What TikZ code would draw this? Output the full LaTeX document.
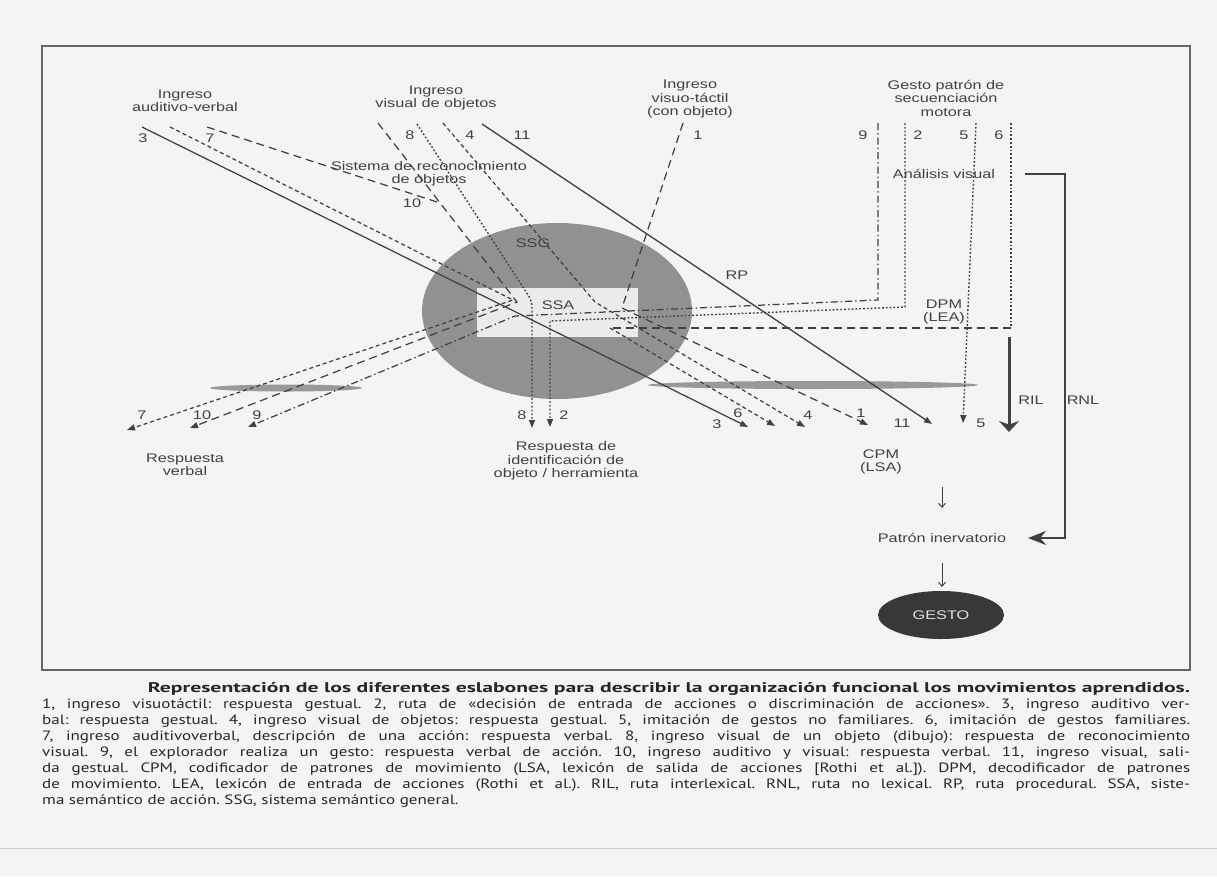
\documentclass[tikz,border=0pt]{standalone}
\usepackage{fontspec}
\setmainfont{Liberation Sans}
\newfontfamily\lblfont[FakeStretch=1.3]{Liberation Sans}
\newfontfamily\capfont[FakeStretch=1.26]{PT Sans}
\newfontfamily\titfont[FakeStretch=1.55]{PT Sans}
\usetikzlibrary{arrows.meta,shapes.geometric}

\newcommand\lblsize{\lblfont\fontsize{12.5pt}{13.5pt}\selectfont}
\newcommand\capsize{\capfont\fontsize{13.5pt}{16pt}\selectfont\frenchspacing}
\newcommand\capline[1]{\makebox[1148pt][s]{#1}}

\definecolor{paper}{RGB}{244,244,244}
\definecolor{ink}{RGB}{65,65,65}

\tikzset{
	lbl/.style={font=\lblsize, align=center, text=ink, inner sep=0pt},
	numlbl/.style={lbl},
	route/.style={draw=ink, line width=1.25pt},
	rsolid/.style={route},
	rlong/.style={route, dash pattern=on 8pt off 5pt},
	rfine/.style={route, dash pattern=on 4pt off 3pt},
	rdot/.style={route, line width=1.4pt, dash pattern=on 1.8pt off 2pt},
	rdashdot/.style={route, dash pattern=on 7pt off 3pt on 1.5pt off 3pt},
	rtip/.style={-{Triangle[length=8pt,width=6pt]}}
}

\begin{document}
\begin{tikzpicture}[x=1pt,y=-1pt]
	\useasboundingbox (0,0) rectangle (1217,876);
	\fill[paper] (0,0) rectangle (1217,876);
	% marco
	\draw[black!60, line width=1.6pt] (42,46) rectangle (1190,670);
	\draw[black!20, line width=0.8pt] (0,848) -- (1217,848);

	% SSG / SSA
	\fill[black!43] (557,311) ellipse [x radius=135, y radius=88];
	\fill[black!8] (477,288) rectangle (638,337);
	% sombras
	\fill[black!40] (286,388) ellipse [x radius=76, y radius=3.5];
	\fill[black!40] (813,385) ellipse [x radius=165, y radius=4];

	% label
	\node[lbl] (audv) at (185,101) {Ingreso\\auditivo-verbal};
	\node[lbl] (visobj) at (436,98) {Ingreso\\visual de objetos};
	\node[lbl] (vistac) at (690,99) {Ingreso\\visuo-táctil\\(con objeto)};
	\node[lbl] (gesto pat) at (946,98) {Gesto patrón de\\secuenciación\\motora};
	\node[lbl] (sisrec) at (429,174) {Sistema de reconocimiento\\de objetos};
	\node[lbl] (anvis) at (944,174) {Análisis visual};
	\node[lbl] (dpm) at (944,312) {DPM\\(LEA)};
	\node[lbl] (ssg) at (533,243) {SSG};
	\node[lbl] (ssa) at (558,305) {SSA};
	\node[lbl] (rp) at (737,275) {RP};
	\node[lbl] (resverb) at (185,465) {Respuesta\\verbal};
	\node[lbl] (resid) at (566,461) {Respuesta de\\identificación de\\objeto / herramienta};
	\node[lbl] (cpm) at (881,462) {CPM\\(LSA)};
	\node[lbl] (patron) at (942,538) {Patrón inervatorio};
	\node[lbl, ellipse, fill=black!78, text=black!12, minimum width=126, minimum height=48] (gesto) at (941,615) {GESTO};
	\node[lbl] (ril) at (1031,400) {RIL};
	\node[lbl] (rnl) at (1083,400) {RNL};

	% numeros arriba
	\node[numlbl] (n3t) at (143,138) {3};
	\node[numlbl] (n7t) at (210,138) {7};
	\node[numlbl] (n8t) at (410,135) {8};
	\node[numlbl] (n4t) at (470,135) {4};
	\node[numlbl] (n11t) at (522,135) {11};
	\node[numlbl] (n1t) at (698,135) {1};
	\node[numlbl] (n9t) at (863,135) {9};
	\node[numlbl] (n2t) at (918,135) {2};
	\node[numlbl] (n5t) at (964,135) {5};
	\node[numlbl] (n6t) at (999,135) {6};
	\node[numlbl] (n10t) at (412,203) {10};
	% numeros abajo
	\node[numlbl] (n7b) at (142,415) {7};
	\node[numlbl] (n10b) at (202,415) {10};
	\node[numlbl] (n9b) at (257,415) {9};
	\node[numlbl] (n8b) at (522,415) {8};
	\node[numlbl] (n2b) at (564,415) {2};
	\node[numlbl] (n3b) at (717,424) {3};
	\node[numlbl] (n6b) at (738,413) {6};
	\node[numlbl] (n4b) at (808,415) {4};
	\node[numlbl] (n1b) at (861,413) {1};
	\node[numlbl] (n11b) at (902,423) {11};
	\node[numlbl] (n5b) at (981,423) {5};

	% puntos de las rutas
	\coordinate (s3) at (142,127);   \coordinate (e3) at (748,427);
	\coordinate (s7) at (170,127);   \coordinate (m7) at (513,300);   \coordinate (e7) at (127,430);
	\coordinate (s10a) at (207,127); \coordinate (j10) at (440,203);
	\coordinate (s10) at (378,123);  \coordinate (m10) at (517,302);  \coordinate (e10) at (190,428);
	\coordinate (s8) at (417,124);   \coordinate (b8) at (532,301);   \coordinate (e8) at (532,428);
	\coordinate (s4) at (443,123);   \coordinate (m4) at (595,302);   \coordinate (e4) at (805,427);
	\coordinate (s11) at (482,124);  \coordinate (e11) at (932,424);
	\coordinate (s1) at (683,123);   \coordinate (m1) at (622,308);   \coordinate (e1) at (868,425);
	\coordinate (s9) at (878,123);   \coordinate (k9) at (878,300);   \coordinate (m9) at (515,316);  \coordinate (e9) at (248,427);
	\coordinate (s2) at (905,123);   \coordinate (k2) at (905,307);   \coordinate (m2) at (550,321);  \coordinate (e2) at (550,427);
	\coordinate (s5) at (976,123);   \coordinate (e5) at (963,423);
	\coordinate (s6) at (1011,123);  \coordinate (k6) at (1011,328);  \coordinate (m6) at (610,328);  \coordinate (e6) at (775,426);

	% rutas
	\draw[rsolid, rtip] (s3) -- (e3);
	\draw[rfine, rtip] (s7) -- (m7) -- (e7);
	\draw[rlong] (s10a) -- (j10);
	\draw[rlong, rtip] (s10) -- (m10) -- (e10);
	\draw[rdot, rtip, rounded corners=6pt] (s8) -- (b8) -- (e8);
	\draw[rfine, rtip] (s4) -- (m4) -- (e4);
	\draw[rsolid, rtip] (s11) -- (e11);
	\draw[rlong, rtip] (s1) -- (m1) -- (e1);
	\draw[rdashdot, rtip] (s9) -- (k9) -- (m9) -- (e9);
	\draw[rdot, rtip] (s2) -- (k2) -- (m2) -- (e2);
	\draw[rdot, rtip] (s5) -- (e5);
	\draw[rdot] (s6) -- (k6);
	\draw[rlong] (k6) -- (m6);
	\draw[rfine, rtip] (m6) -- (e6);

	% RIL / RNL
	\coordinate (rilA) at (1009,337); \coordinate (rilB) at (1009,432);
	\draw[ink, line width=3pt, -{Stealth[length=11pt,width=20pt]}] (rilA) -- (rilB);
	\coordinate (rnlA) at (1025,174); \coordinate (rnlB) at (1065,538); \coordinate (rnlC) at (1028,538);
	\draw[ink, line width=2pt, -{Stealth[length=18pt,width=14pt]}] (rnlA) -| (rnlB) -- (rnlC);

	% CPM -> patron -> gesto
	\coordinate (c1) at (942,487); \coordinate (c2) at (942,508);
	\coordinate (c3) at (942,563); \coordinate (c4) at (942,587);
	\draw[ink, line width=1pt, -{Straight Barb[length=4pt,width=7pt]}] (c1) -- (c2);
	\draw[ink, line width=1pt, -{Straight Barb[length=4pt,width=7pt]}] (c3) -- (c4);

	% pie
	\node[anchor=north west, inner sep=0pt, align=left, font=\capsize, text=black!85] (caption) at (42,682) {%
		\makebox[1148pt][r]{\titfont\fontsize{14pt}{16pt}\selectfont\bfseries Representación de los diferentes eslabones para describir la organización funcional los movimientos aprendidos.}\\
		\capline{1, ingreso visuotáctil: respuesta gestual. 2, ruta de «decisión de entrada de acciones o discriminación de acciones». 3, ingreso auditivo ver-}\\
		\capline{bal: respuesta gestual. 4, ingreso visual de objetos: respuesta gestual. 5, imitación de gestos no familiares. 6, imitación de gestos familiares.}\\
		\capline{7, ingreso auditivoverbal, descripción de una acción: respuesta verbal. 8, ingreso visual de un objeto (dibujo): respuesta de reconocimiento}\\
		\capline{visual. 9, el explorador realiza un gesto: respuesta verbal de acción. 10, ingreso auditivo y visual: respuesta verbal. 11, ingreso visual, sali-}\\
		\capline{da gestual. CPM, codificador de patrones de movimiento (LSA, lexicón de salida de acciones [Rothi et al.]). DPM, decodificador de patrones}\\
		\capline{de movimiento. LEA, lexicón de entrada de acciones (Rothi et al.). RIL, ruta interlexical. RNL, ruta no lexical. RP, ruta procedural. SSA, siste-}\\
		ma semántico de acción. SSG, sistema semántico general.};
\end{tikzpicture}
\end{document}
